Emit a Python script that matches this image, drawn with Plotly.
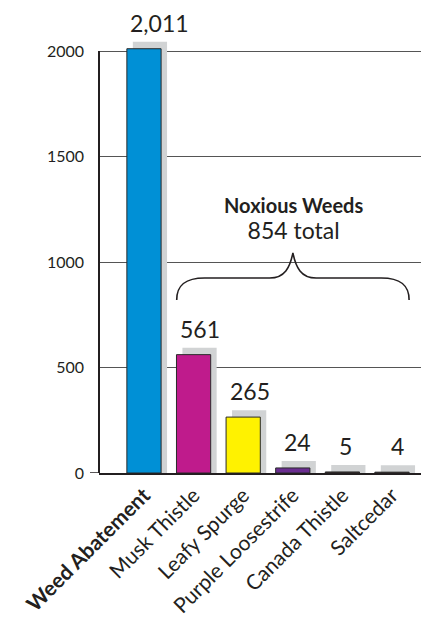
import plotly.graph_objects as go

categories = ["Weed Abatement", "Musk Thistle", "Leafy Spurge", "Purple Loosestrife", "Canada Thistle", "Saltcedar"]
values = [2011, 561, 265, 24, 5, 4]
bar_colors = ["#0090d6", "#bf1b8c", "#fff200", "#6b2e91", "#3a2a2a", "#3a2a2a"]
y_ticks = [0, 500, 1000, 1500, 2000]
group_title = "Noxious Weeds"
group_total = 854   # as printed on the chart

FONT = "Lato"
W = 0.69            # bar width in category units
SH_DX = 0.12        # shadow x offset (category units)
SH_DY = 33          # shadow y offset (data units)
Y_AXIS_TOP = 2000
label_xshift = [13, 3, 4, 2, 0, 3]   # px nudges of the value labels

idx = list(range(len(categories)))
ticktext = [f"<b>{c}</b>" if i == 0 else c for i, c in enumerate(categories)]

fig = go.Figure()
# shadows
fig.add_trace(go.Bar(
    x=idx, y=[v + SH_DY for v in values], width=W, offset=-W / 2 + SH_DX,
    marker=dict(color="#d1d3d4", line=dict(width=0)),
    hoverinfo="skip", showlegend=False))
# bars
fig.add_trace(go.Bar(
    x=idx, y=values, width=W, offset=-W / 2,
    marker=dict(color=bar_colors, line=dict(color="#2a2a2a", width=1)),
    showlegend=False))

# value labels
for i, v in zip(idx, values):
    fig.add_annotation(x=i + SH_DX / 2, y=v + SH_DY, text=f"{v:,}", showarrow=False,
                       yanchor="bottom", yshift=3, xshift=label_xshift[i],
                       font=dict(family=FONT, size=23, color="#231f20"))

# brace over noxious weeds
x0, x1 = 1 - W / 2 + 0.005, 5 + W / 2
xm = (x0 + x1) / 2
hw = (x1 - x0) / 2
ytip, yarm, ypeak = 820, 924, 1043
a = 0.24 * hw
b = 0.20 * hw
path = (
    f"M {x0},{ytip} C {x0},{ytip + 70} {x0 + a * 0.3},{yarm} {x0 + a},{yarm} "
    f"L {xm - b},{yarm} C {xm - b * 0.35},{yarm} {xm - 0.06},{yarm + 50} {xm},{ypeak} "
    f"C {xm + 0.06},{yarm + 50} {xm + b * 0.35},{yarm} {xm + b},{yarm} "
    f"L {x1 - a},{yarm} C {x1 - a * 0.3},{yarm} {x1},{ytip + 70} {x1},{ytip}"
)
fig.add_shape(type="path", path=path, xref="x", yref="y",
              line=dict(color="#231f20", width=1.6), layer="above")
fig.add_annotation(
    x=xm + 0.02, y=1208,
    text=(f"<b><span style='font-size:20px'>{group_title}</span></b><br>"
          f"<span style='font-size:23px'>{group_total} total</span>"),
    showarrow=False, align="center",
    font=dict(family=FONT, size=20, color="#231f20"))

# left axis line (only up to 2000) and the small tick at zero
fig.add_shape(type="line", xref="paper", yref="y", x0=0, x1=0, y0=0, y1=Y_AXIS_TOP,
              line=dict(color="#231f20", width=2), layer="above")
fig.add_shape(type="line", xref="paper", yref="y", x0=-0.028, x1=0, y0=0, y1=0,
              line=dict(color="#231f20", width=1.5), layer="above")

fig.update_layout(
    width=421, height=622,
    margin=dict(l=99, r=0, t=0, b=149),
    paper_bgcolor="white", plot_bgcolor="white",
    barmode="overlay",
    font=dict(family=FONT, color="#231f20"),
    xaxis=dict(range=[-0.907, 5.585], tickmode="array", tickvals=idx, ticktext=ticktext,
               tickangle=-45, tickfont=dict(size=21, color="#231f20"),
               showgrid=False, zeroline=False, showline=True, linecolor="#231f20",
               linewidth=1.5, ticks="", automargin=False),
    yaxis=dict(range=[0, 2242], tickmode="array", tickvals=y_ticks,
               tickfont=dict(size=16, color="#231f20"),
               showgrid=True, gridcolor="#555555", gridwidth=1,
               zeroline=False, showline=False,
               ticks="", ticklabelstandoff=14, automargin=False),
)

fig.write_html("out.html", config={"displayModeBar": False},
               post_script="document.body.style.margin='0';")
